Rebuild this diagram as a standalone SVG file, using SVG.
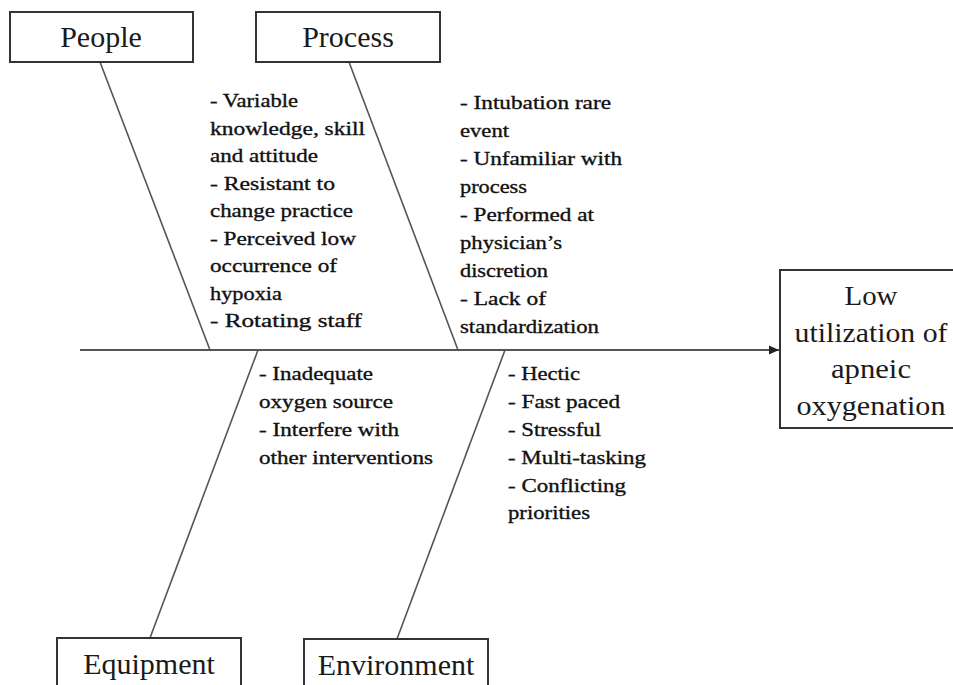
<svg xmlns="http://www.w3.org/2000/svg" width="953" height="685" viewBox="0 0 953 685">
<defs>
<style>
.box{fill:#fff;stroke:#333;stroke-width:2}
.lbl{font-family:"Liberation Serif","Times New Roman",serif;font-size:30px;fill:#1a1a1a;text-anchor:middle}
.eff{font-family:"Liberation Serif","Times New Roman",serif;font-size:27px;fill:#1a1a1a;text-anchor:middle}
.t{font-family:"Liberation Serif","Times New Roman",serif;font-size:19.5px;fill:#111;stroke:#111;stroke-width:0.35}
.bone{stroke:#555;stroke-width:1.6;fill:none}
.spine{stroke:#555;stroke-width:2;fill:none}
</style>
<marker id="arr" markerWidth="12" markerHeight="12" refX="10" refY="6" orient="auto" markerUnits="userSpaceOnUse">
<path d="M0,1.5 L10,6 L0,10.5 Z" fill="#222"/>
</marker>
</defs>
<rect width="953" height="685" fill="#fff"/>
<g id="connectors">
<line class="spine" x1="80" y1="350" x2="779" y2="350" marker-end="url(#arr)"/>
<line class="bone" x1="100" y1="62" x2="210" y2="350"/>
<line class="bone" x1="349" y1="62" x2="458" y2="350"/>
<line class="bone" x1="258" y1="350" x2="150" y2="638"/>
<line class="bone" x1="505" y1="350" x2="397" y2="639"/>
</g>
<g id="people">
<rect class="box" x="10" y="12" width="183" height="50"/>
<text class="lbl" x="101" y="47">People</text>
</g>
<g id="process">
<rect class="box" x="256" y="12" width="184" height="50"/>
<text class="lbl" x="348" y="47">Process</text>
</g>
<g id="equipment">
<rect class="box" x="57" y="638" width="184" height="60"/>
<text class="lbl" x="149" y="674">Equipment</text>
</g>
<g id="environment">
<rect class="box" x="304" y="639" width="184" height="60"/>
<text class="lbl" x="396" y="675">Environment</text>
</g>
<g id="effect">
<rect class="box" x="780" y="270" width="182" height="158"/>
<text class="eff" x="871" y="305" textLength="53" lengthAdjust="spacingAndGlyphs">Low</text>
<text class="eff" x="871" y="342" textLength="153" lengthAdjust="spacingAndGlyphs">utilization of</text>
<text class="eff" x="871" y="378" textLength="80" lengthAdjust="spacingAndGlyphs">apneic</text>
<text class="eff" x="871" y="415" textLength="149" lengthAdjust="spacingAndGlyphs">oxygenation</text>
</g>
<g id="people-causes">
<text class="t" x="210" y="107" textLength="88" lengthAdjust="spacingAndGlyphs">- Variable</text>
<text class="t" x="210" y="134.5" textLength="155" lengthAdjust="spacingAndGlyphs">knowledge, skill</text>
<text class="t" x="210" y="162" textLength="108" lengthAdjust="spacingAndGlyphs">and attitude</text>
<text class="t" x="210" y="189.5" textLength="125" lengthAdjust="spacingAndGlyphs">- Resistant to</text>
<text class="t" x="210" y="217" textLength="143" lengthAdjust="spacingAndGlyphs">change practice</text>
<text class="t" x="210" y="244.5" textLength="146" lengthAdjust="spacingAndGlyphs">- Perceived low</text>
<text class="t" x="210" y="272" textLength="127" lengthAdjust="spacingAndGlyphs">occurrence of</text>
<text class="t" x="210" y="299.5" textLength="72" lengthAdjust="spacingAndGlyphs">hypoxia</text>
<text class="t" x="210" y="327" textLength="152" lengthAdjust="spacingAndGlyphs">- Rotating staff</text>
</g>
<g id="process-causes">
<text class="t" x="460" y="109" textLength="151" lengthAdjust="spacingAndGlyphs">- Intubation rare</text>
<text class="t" x="460" y="137" textLength="49" lengthAdjust="spacingAndGlyphs">event</text>
<text class="t" x="460" y="165" textLength="162" lengthAdjust="spacingAndGlyphs">- Unfamiliar with</text>
<text class="t" x="460" y="193" textLength="67" lengthAdjust="spacingAndGlyphs">process</text>
<text class="t" x="460" y="221" textLength="134" lengthAdjust="spacingAndGlyphs">- Performed at</text>
<text class="t" x="460" y="249" textLength="102" lengthAdjust="spacingAndGlyphs">physician’s</text>
<text class="t" x="460" y="277" textLength="88" lengthAdjust="spacingAndGlyphs">discretion</text>
<text class="t" x="460" y="305" textLength="86" lengthAdjust="spacingAndGlyphs">- Lack of</text>
<text class="t" x="460" y="333" textLength="139" lengthAdjust="spacingAndGlyphs">standardization</text>
</g>
<g id="equipment-causes">
<text class="t" x="259" y="380" textLength="114" lengthAdjust="spacingAndGlyphs">- Inadequate</text>
<text class="t" x="259" y="408" textLength="134" lengthAdjust="spacingAndGlyphs">oxygen source</text>
<text class="t" x="259" y="436" textLength="140" lengthAdjust="spacingAndGlyphs">- Interfere with</text>
<text class="t" x="259" y="464" textLength="174" lengthAdjust="spacingAndGlyphs">other interventions</text>
</g>
<g id="environment-causes">
<text class="t" x="508" y="380" textLength="72" lengthAdjust="spacingAndGlyphs">- Hectic</text>
<text class="t" x="508" y="408" textLength="112" lengthAdjust="spacingAndGlyphs">- Fast paced</text>
<text class="t" x="508" y="436" textLength="93" lengthAdjust="spacingAndGlyphs">- Stressful</text>
<text class="t" x="508" y="464" textLength="138" lengthAdjust="spacingAndGlyphs">- Multi-tasking</text>
<text class="t" x="508" y="492" textLength="118" lengthAdjust="spacingAndGlyphs">- Conflicting</text>
<text class="t" x="508" y="519" textLength="82" lengthAdjust="spacingAndGlyphs">priorities</text>
</g>
</svg>
